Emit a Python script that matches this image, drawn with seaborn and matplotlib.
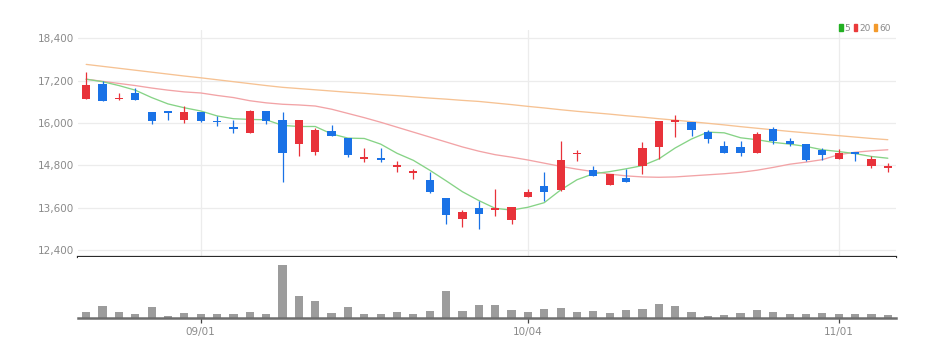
import numpy as np
import pandas as pd
import matplotlib
matplotlib.use("Agg")
import matplotlib.pyplot as plt
from matplotlib.patches import Patch
from matplotlib import font_manager
import seaborn as sns

# ---------------- data ----------------
dates_idx = list(range(50))
opens = [16690, 17110, 16670, 16850, 16300, 16350, 16090, 16310, 16050, 15890,
         15720, 16350, 16090, 15410, 15190, 15780, 15570, 14990, 15020, 14750,
         14580, 14390, 13870, 13290, 13580, 13540, 13250, 13900, 14220, 14100,
         15110, 14670, 14240, 14440, 14790, 15310, 16030, 16040, 15740, 15340,
         15320, 15160, 15840, 15500, 15400, 15240, 14980, 15170, 14790, 14730]
closes = [17090, 16630, 16690, 16660, 16050, 16290, 16310, 16050, 16020, 15840,
          16350, 16050, 15160, 16090, 15790, 15640, 15090, 15020, 14960, 14810,
          14640, 14050, 13380, 13480, 13430, 13580, 13630, 14030, 14030, 14940,
          15150, 14500, 14560, 14340, 15280, 16050, 16070, 15810, 15550, 15140,
          15140, 15690, 15500, 15410, 14940, 15090, 15150, 15130, 14980, 14760]
highs = [17450, 17180, 16850, 16980, 16300, 16350, 16490, 16320, 16210, 16070,
         16360, 16350, 16300, 16090, 15860, 15950, 15570, 15280, 15300, 14930,
         14690, 14620, 13870, 13530, 13800, 14130, 13630, 14130, 14600, 15490,
         15240, 14790, 14560, 14690, 15450, 16060, 16220, 16040, 15790, 15490,
         15490, 15750, 15890, 15580, 15400, 15280, 15270, 15170, 15050, 14860]
lows = [16690, 16630, 16640, 16660, 15960, 16070, 16000, 16020, 15900, 15720,
        15720, 15960, 14340, 15050, 15080, 15640, 15040, 14890, 14880, 14610,
        14410, 14010, 13130, 13060, 12980, 13370, 13130, 13900, 13800, 14080,
        14910, 14500, 14240, 14340, 14560, 14980, 15590, 15640, 15420, 15140,
        15050, 15160, 15400, 15340, 14910, 14950, 14980, 14920, 14710, 14620]
ma5 = [17240, 17170, 17060, 16930, 16720, 16540, 16430, 16340, 16200, 16120,
       16100, 16090, 15930, 15900, 15900, 15690, 15570, 15560, 15400, 15140,
       14940, 14660, 14360, 14050, 13800, 13580, 13530, 13610, 13740, 14100,
       14390, 14560, 14620, 14700, 14790, 14980, 15290, 15545, 15740, 15720,
       15580, 15525, 15450, 15400, 15335, 15240, 15190, 15130, 15050, 15000]
ma20 = [17240, 17180, 17120, 17060, 16990, 16930, 16880, 16850, 16780, 16720,
        16630, 16570, 16530, 16510, 16480, 16390, 16270, 16150, 16020, 15880,
        15740, 15600, 15460, 15320, 15200, 15100, 15030, 14950, 14860, 14770,
        14690, 14620, 14550, 14500, 14470, 14460, 14470, 14500, 14530, 14560,
        14600, 14660, 14740, 14830, 14890, 14960, 15100, 15170, 15210, 15240]
ma60 = [17660, 17605, 17550, 17495, 17440, 17385, 17330, 17280, 17225, 17170,
        17115, 17060, 17010, 16975, 16940, 16905, 16870, 16840, 16805, 16775,
        16740, 16705, 16675, 16640, 16610, 16565, 16520, 16470, 16425, 16375,
        16330, 16290, 16250, 16205, 16165, 16120, 16080, 16035, 15990, 15945,
        15895, 15850, 15805, 15760, 15720, 15680, 15640, 15600, 15560, 15525]
volume = [60000, 120000, 60000, 37000, 110000, 23000, 53000, 43000, 43000, 37000,
          60000, 37000, 533000, 223000, 173000, 53000, 110000, 43000, 43000, 60000,
          43000, 70000, 267000, 70000, 127000, 127000, 77000, 60000, 93000, 103000,
          60000, 70000, 50000, 77000, 93000, 137000, 120000, 60000, 23000, 27000,
          53000, 77000, 60000, 43000, 37000, 53000, 40000, 40000, 40000, 27000]
tick_pos = [7, 27, 46]
tick_labels = ["09/01", "10/04", "11/01"]
y_ticks = [12400, 13600, 14800, 16000, 17200, 18400]
legend_labels = ["5", "20", "60"]

# ---------------- style ----------------
sns.set_style("white")
names = {f.name for f in font_manager.fontManager.ttflist}
fam = "Liberation Sans Narrow" if "Liberation Sans Narrow" in names else "DejaVu Sans"
plt.rcParams["font.family"] = [fam, "DejaVu Sans"]

RED = "#e8323a"
BLUE = "#1a72e6"
C5 = "#86d386"
C20 = "#f2a3a6"
C60 = "#f6c293"
GRID = "#ececec"
TXT = "#8a8a8a"

W, H = 948, 357
fig = plt.figure(figsize=(W / 100, H / 100), dpi=100)
ax = fig.add_axes([78 / W, 1 - 257 / H, 818 / W, 227 / H])
axv = fig.add_axes([78 / W, 1 - 318 / H, 818 / W, 61 / H])

df = pd.DataFrame({"i": dates_idx, "o": opens, "c": closes, "h": highs, "l": lows,
                   "ma5": ma5, "ma20": ma20, "ma60": ma60, "v": volume})

# grid
for yt in y_ticks:
    ax.axhline(yt, color=GRID, lw=0.9, zorder=0)
for xt in tick_pos:
    ax.axvline(xt, color=GRID, lw=0.9, zorder=0)

# moving averages
sns.lineplot(data=df, x="i", y="ma60", ax=ax, color=C60, lw=0.95, zorder=2)
sns.lineplot(data=df, x="i", y="ma20", ax=ax, color=C20, lw=0.95, zorder=2)
sns.lineplot(data=df, x="i", y="ma5", ax=ax, color=C5, lw=0.95, zorder=2)

# candles
up = df["c"] >= df["o"]
cols = np.where(up, RED, BLUE)
ax.vlines(df["i"], df["l"], df["h"], colors=cols, lw=0.9, zorder=3)
bottoms = np.minimum(df["o"], df["c"])
heights = np.maximum(np.abs(df["c"] - df["o"]), 40)
ax.bar(df["i"], heights, bottom=bottoms, width=0.5, color=cols, lw=0, zorder=4)

ax.set_xlim(-0.5, 49.5)
ax.set_ylim(12200, 18635)
ax.set_yticks(y_ticks)
ax.set_yticklabels([f"{v:,}" for v in y_ticks])
ax.set_xticks([])
ax.tick_params(axis="y", length=0, pad=3, labelsize=7.5, labelcolor=TXT)
ax.set_xlabel("")
ax.set_ylabel("")
for s in ["top", "right", "left"]:
    ax.spines[s].set_visible(False)
ax.spines["bottom"].set_color("#2b2b2b")
ax.spines["bottom"].set_linewidth(1.6)

# volume
sns.barplot(data=df, x="i", y="v", ax=axv, native_scale=True, color="#9c9c9c",
            saturation=1, width=0.5, linewidth=0, zorder=2)
axv.set_xlim(-0.5, 49.5)
axv.set_ylim(0, 610000)
axv.set_yticks([])
axv.set_xticks(tick_pos)
axv.set_xticklabels(tick_labels)
axv.tick_params(axis="x", length=3.5, width=0.9, color="#444444", pad=3,
                labelsize=7.5, labelcolor=TXT, bottom=True)
axv.set_xlabel("")
axv.set_ylabel("")
for s in ["top", "right", "left"]:
    axv.spines[s].set_visible(False)
axv.spines["bottom"].set_color("#6e6e6e")
axv.spines["bottom"].set_linewidth(1.8)

# legend
handles = [Patch(color="#22b022"), Patch(color="#ea3a3a"), Patch(color="#f39a2c")]
fig.legend(handles, legend_labels, loc="upper right",
           bbox_to_anchor=(895 / W, 1 - 19 / H), ncol=3, frameon=False,
           fontsize=6.5, handlelength=0.4, handleheight=0.9, handletextpad=0.2,
           columnspacing=0.35, borderpad=0, labelcolor=TXT)

fig.savefig("out.png", dpi=100)
